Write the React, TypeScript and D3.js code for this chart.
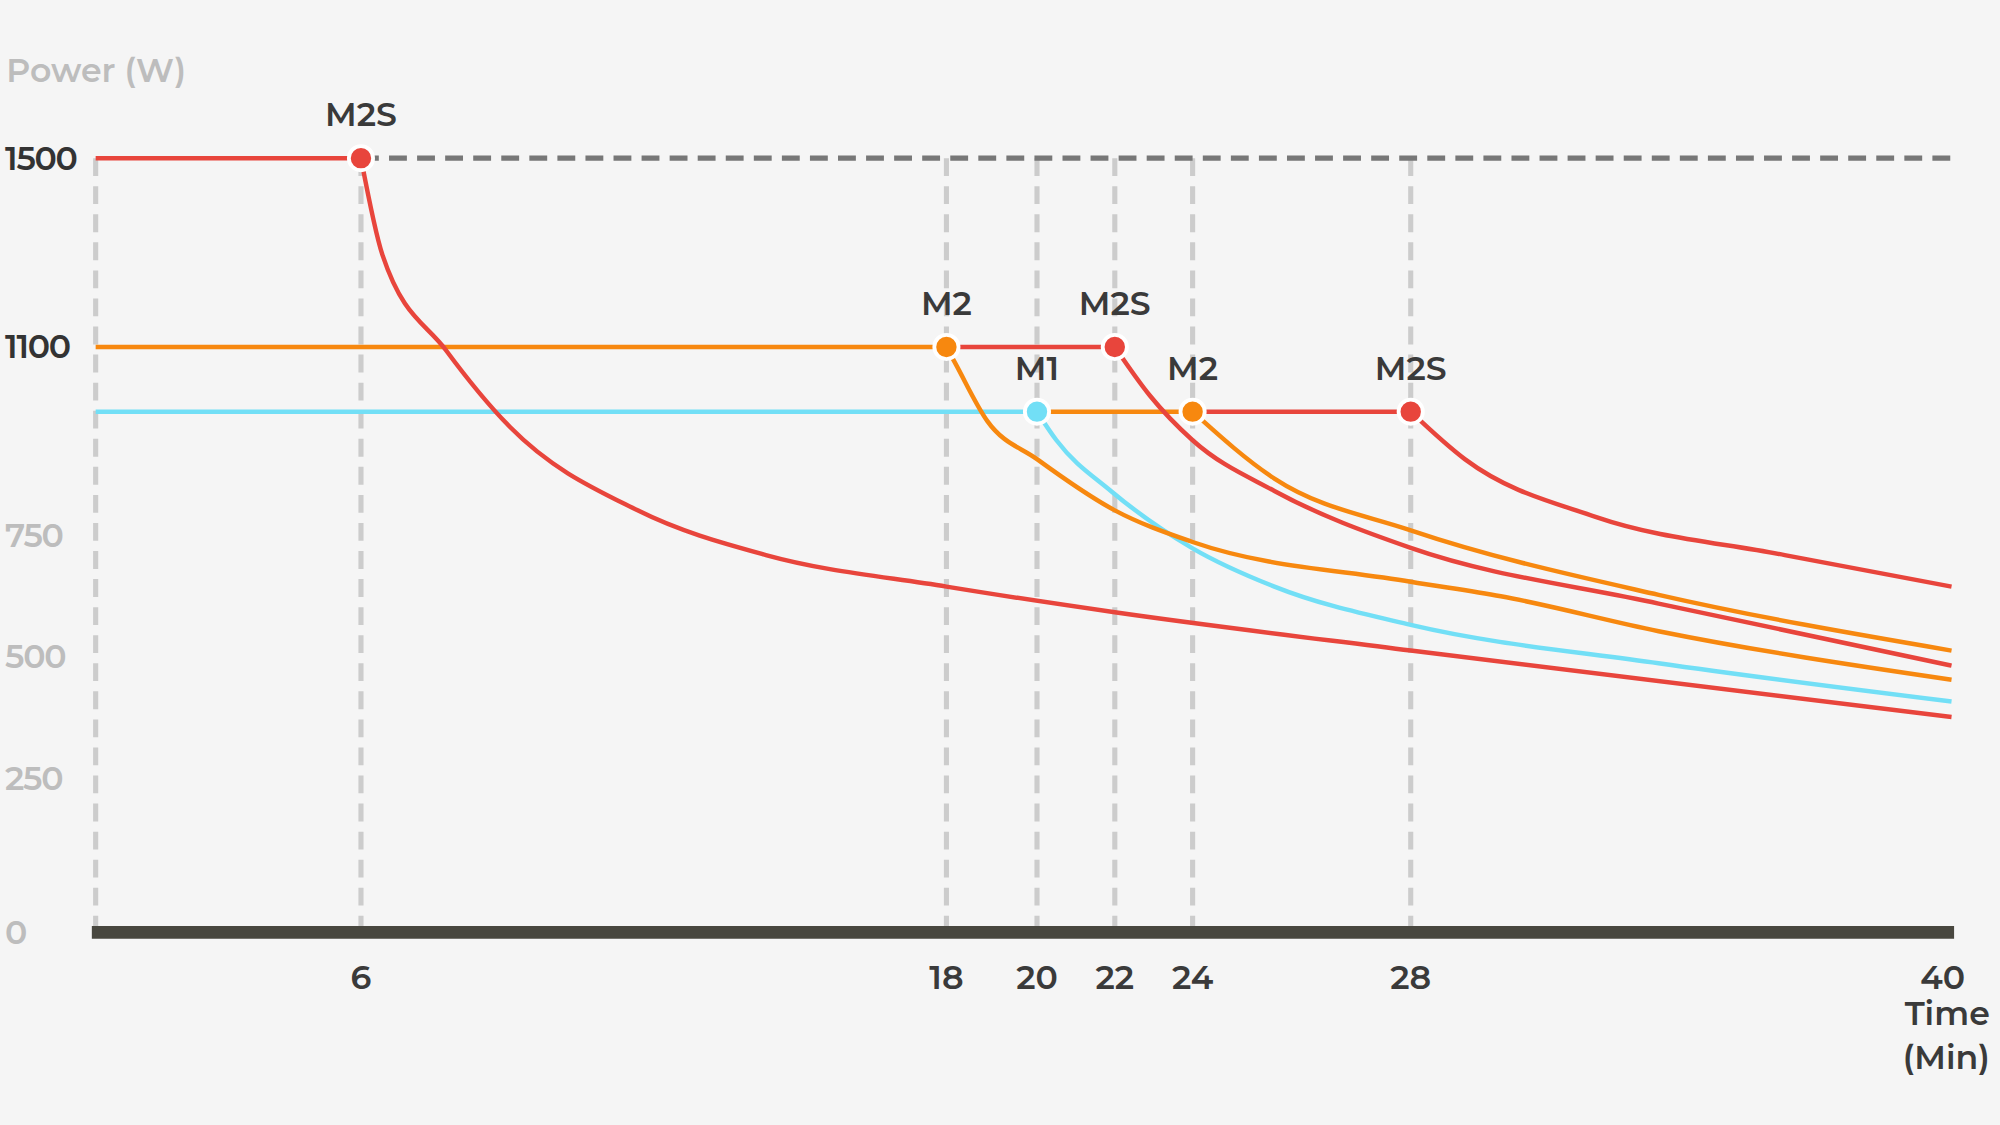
import React from "react";
import * as d3 from "d3";

// tick positions (axis is not linear in the original, so piecewise scales)
const xTicks = [0, 6, 18, 20, 22, 24, 28, 40];
const xPix = [75, 283, 742, 813, 874, 935, 1106, 1530];
const yTicks = [0, 250, 500, 750, 1100, 1500];
const yPix = [731, 610, 515, 420, 272, 124];
const yLabels = ["0", "250", "500", "750", "1100", "1500"];
const guides = [0, 6, 18, 20, 22, 24, 28];

const RED = "#e8453c";
const ORANGE = "#f7880f";
const CYAN = "#72dff6";

type Pt = [number, number];
const flatRed: Pt[] = [[0, 1500], [6, 1500]];
const flatOrange: Pt[] = [[0, 1100], [18, 1100]];
const flatRed2: Pt[] = [[18, 1100], [22, 1100]];
const flatCyan: Pt[] = [[0, 980], [20, 980]];
const flatOrange2: Pt[] = [[20, 980], [24, 980]];
const flatRed3: Pt[] = [[24, 980], [28, 980]];

const decayRed6: Pt[] = [[6, 1500], [6.44, 1295], [7.75, 1093], [9.06, 951], [11.67, 797], [14.3, 710], [18, 645], [22, 592], [28, 513], [40, 376]];
const decayOrange18: Pt[] = [[18, 1100], [18.2, 1069], [18.9, 963], [20, 892], [22, 797], [24, 737], [28, 655], [30, 625], [33.5, 553], [40, 453]];
const decayCyan20: Pt[] = [[20, 980], [20.5, 927], [21.9, 833], [24, 724], [25.5, 645], [28, 566], [33.5, 487], [40, 408]];
const decayRed22: Pt[] = [[22, 1100], [22.9, 1010], [24, 927], [25.5, 833], [28, 725], [33.5, 610], [40, 482]];
const decayOrange24: Pt[] = [[24, 980], [25.5, 856], [28, 760], [33.5, 628], [40, 513]];
const decayRed28: Pt[] = [[28, 980], [29.2, 892], [32.1, 785], [36.3, 710], [40, 645]];

const markers = [
  { t: 6, p: 1500, c: RED, label: "M2S" },
  { t: 18, p: 1100, c: ORANGE, label: "M2" },
  { t: 22, p: 1100, c: RED, label: "M2S" },
  { t: 20, p: 980, c: CYAN, label: "M1" },
  { t: 24, p: 980, c: ORANGE, label: "M2" },
  { t: 28, p: 980, c: RED, label: "M2S" },
];

const x = d3.scaleLinear().domain(xTicks).range(xPix);
const y = d3.scaleLinear().domain(yTicks).range(yPix);
const line = d3.line<Pt>().x((d) => x(d[0])).y((d) => y(d[1])).curve(d3.curveMonotoneX);

const FONT = "Montserrat, 'Open Sans', Lato, sans-serif";

export default function App() {
  const series: [Pt[], string][] = [
    [flatCyan, CYAN],
    [flatOrange, ORANGE],
    [flatRed2, RED],
    [flatOrange2, ORANGE],
    [flatRed3, RED],
    [decayRed6, RED],
    [decayCyan20, CYAN],
    [decayOrange18, ORANGE],
    [decayRed22, RED],
    [decayOrange24, ORANGE],
    [decayRed28, RED],
  ];
  return (
    <svg
      width={2000}
      height={1125}
      viewBox="0 0 1568 882"
      style={{ position: "absolute", left: 0, top: 0, background: "#f5f5f5" }}
      fontFamily={FONT}
    >
      <rect width={1568} height={882} fill="#f5f5f5" />
      {guides.map((g) => (
        <line key={g} x1={x(g)} x2={x(g)} y1={y(1500)} y2={y(0)} stroke="#cccccc" strokeWidth={4} strokeDasharray="14 8" />
      ))}
      <line x1={x(6)} x2={x(40)} y1={y(1500)} y2={y(1500)} stroke="#777" strokeWidth={4} strokeDasharray="14 8" />
      <path d={line(flatRed)!} fill="none" stroke={RED} strokeWidth={3.5} />
      {series.map(([d, c], i) => (
        <path key={i} d={line(d)!} fill="none" stroke={c} strokeWidth={3.5} />
      ))}
      <line x1={72} x2={1532} y1={y(0)} y2={y(0)} stroke="#48473f" strokeWidth={10} />
      {markers.map((m, i) => (
        <g key={i}>
          <circle cx={x(m.t)} cy={y(m.p)} r={9.5} fill={m.c} stroke="#fff" strokeWidth={3} />
          <text x={x(m.t)} y={y(m.p) - 25} textAnchor="middle" fontSize={26} fontWeight={600} fill="#3a3a3a">
            {m.label}
          </text>
        </g>
      ))}
      {yTicks.map((v, i) => (
        <text
          key={v}
          x={4}
          y={y(v) + 9}
          fontSize={26}
          fontWeight={600}
          fill={v >= 1100 ? "#333" : "#bdbdbd"}
          letterSpacing={-1}
        >
          {yLabels[i]}
        </text>
      ))}
      <text x={5} y={64} fontSize={26} fontWeight={600} fill="#bdbdbd">Power (W)</text>
      {xTicks.slice(1).map((v) => (
        <text key={v} x={x(v) - (v === 40 ? 7 : 0)} y={775} textAnchor="middle" fontSize={26} fontWeight={600} fill="#3a3a3a">
          {v}
        </text>
      ))}
      <text x={1560} y={804} textAnchor="end" fontSize={26} fontWeight={600} fill="#3a3a3a">Time</text>
      <text x={1560} y={838} textAnchor="end" fontSize={26} fontWeight={600} fill="#3a3a3a">(Min)</text>
    </svg>
  );
}
